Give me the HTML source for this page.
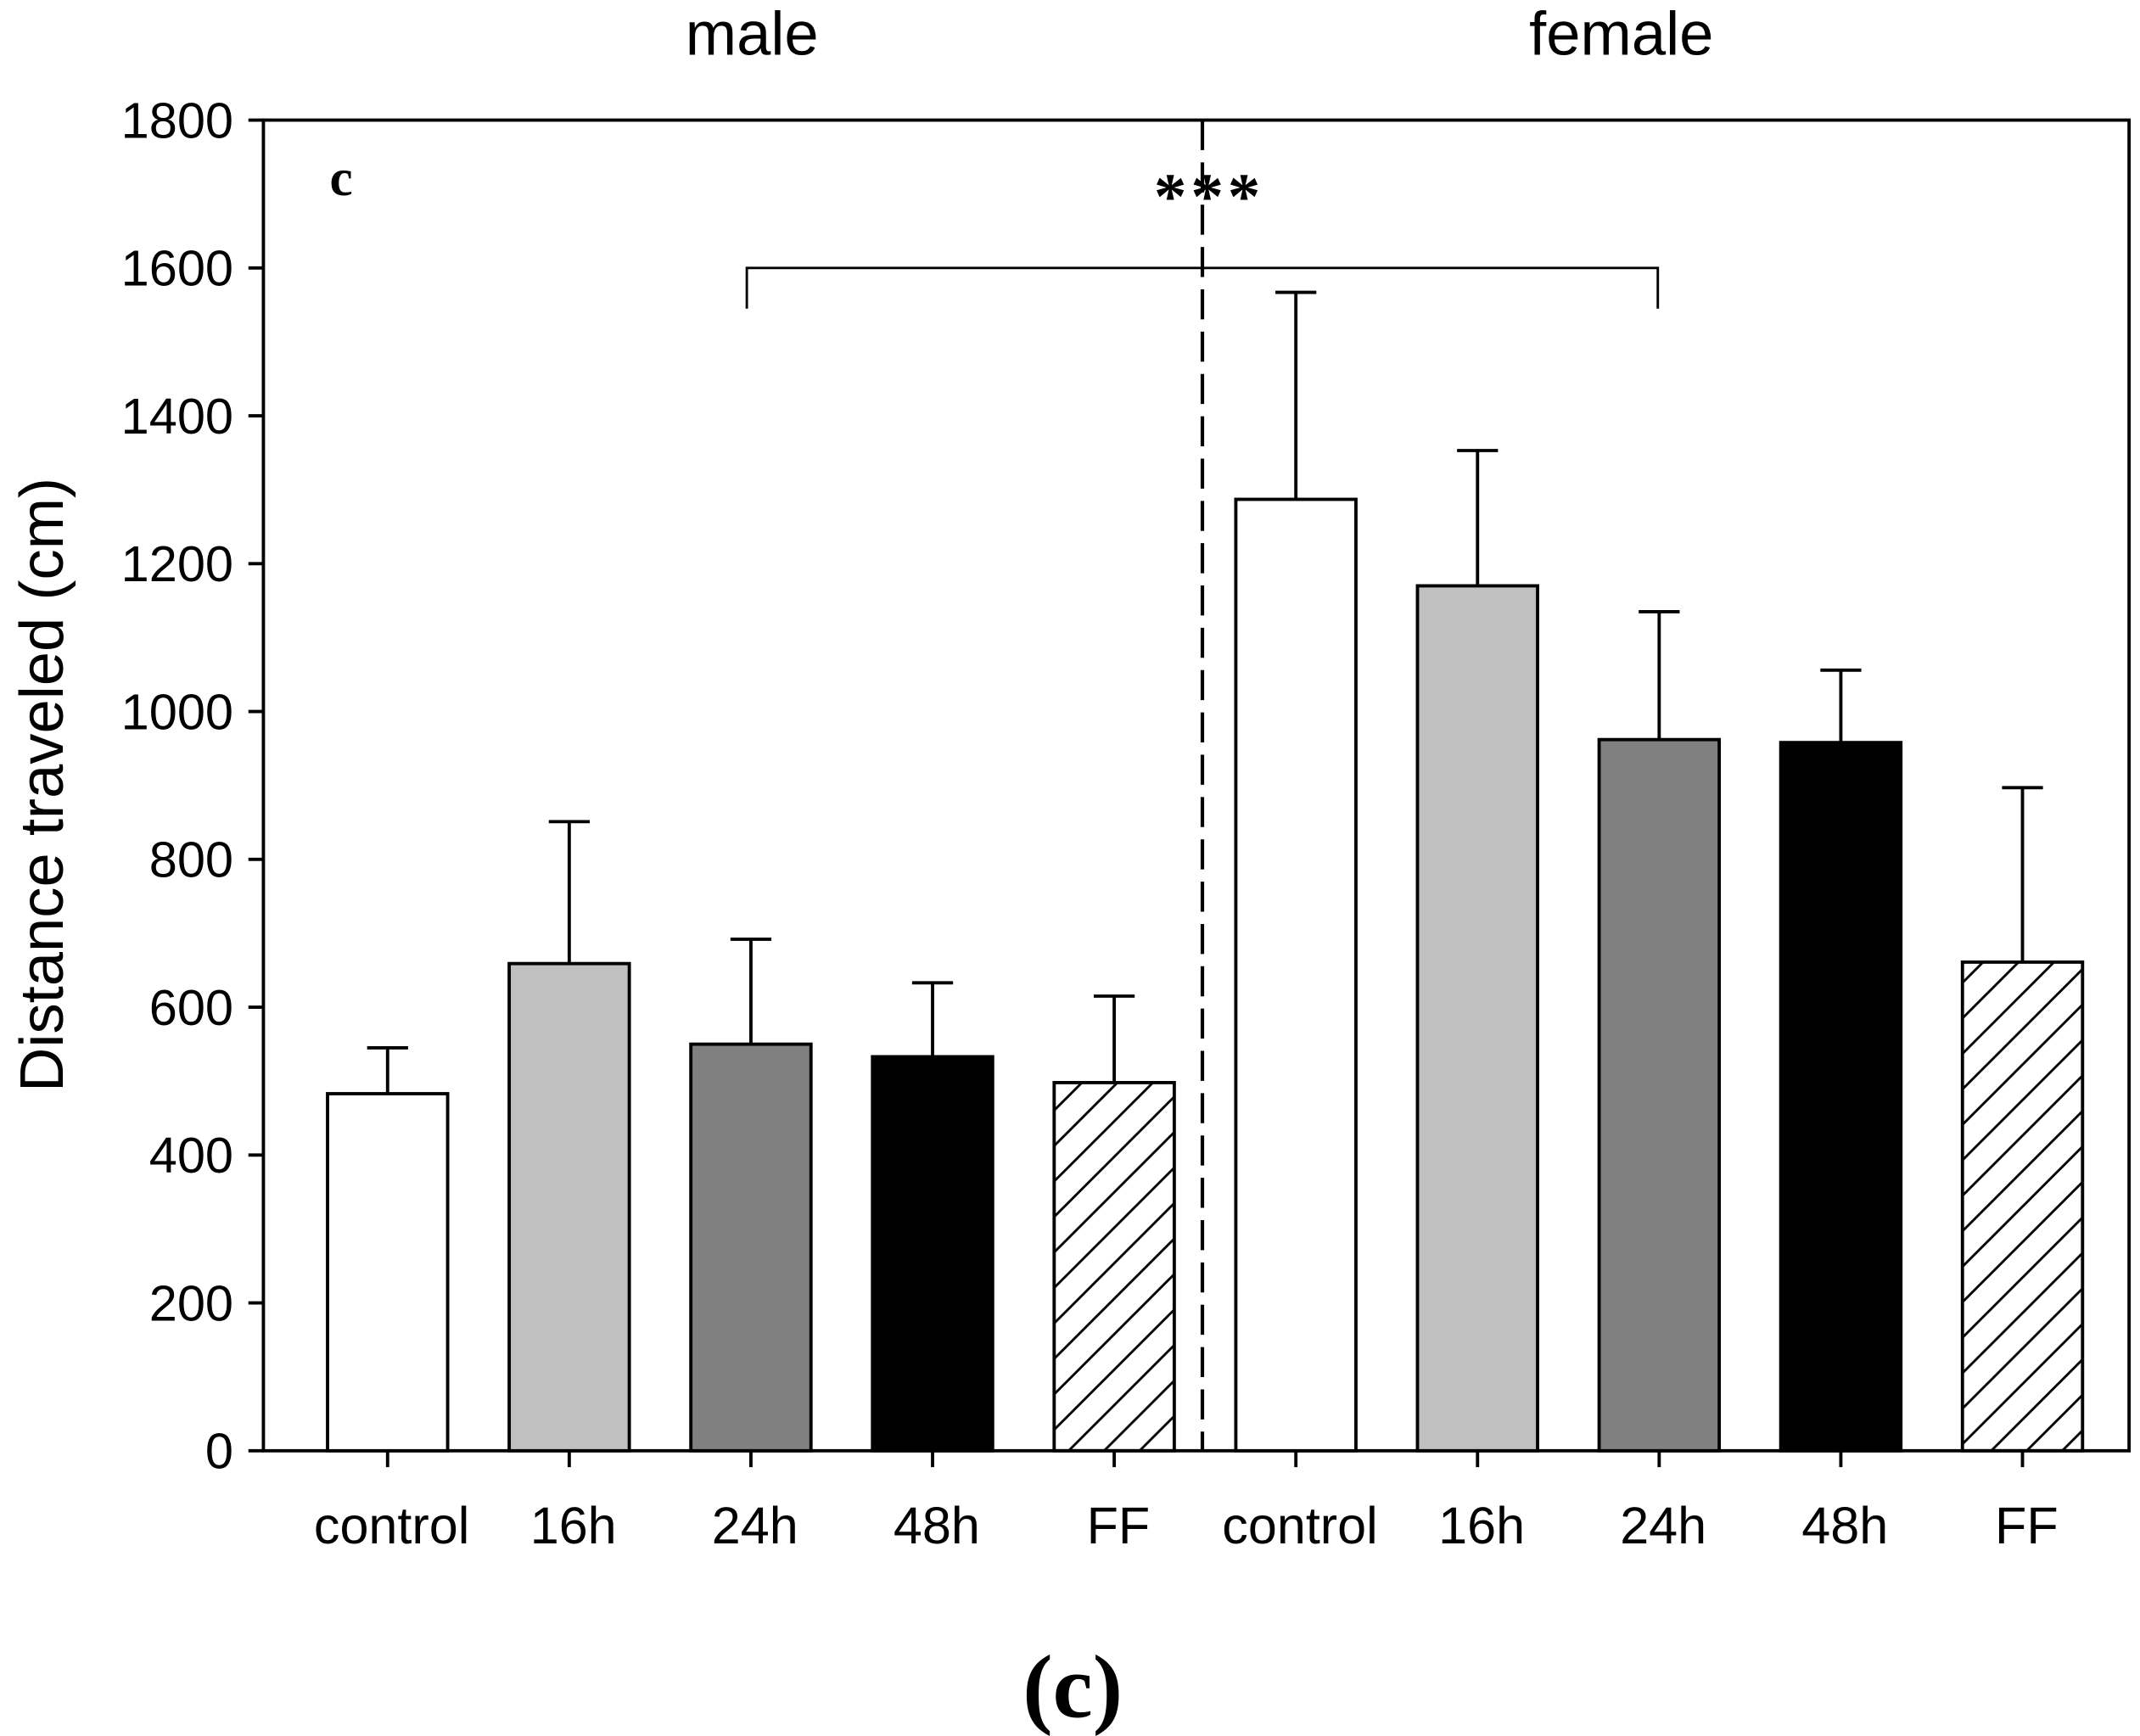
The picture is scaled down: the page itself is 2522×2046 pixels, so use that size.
<!DOCTYPE html>
<html><head><meta charset="utf-8"><style>html,body{margin:0;padding:0;background:#fff}svg{display:block}</style></head>
<body>
<svg width="2522" height="2046" viewBox="0 0 1568 1272" preserveAspectRatio="none" xmlns="http://www.w3.org/2000/svg" font-family="Liberation Sans, Arial, sans-serif">
<defs>
<pattern id="hatch" patternUnits="userSpaceOnUse" width="26" height="26">
<path d="M-2,28 L28,-2 M-15,15 L15,-15 M11,41 L41,11" stroke="#000" stroke-width="1.8"/>
</pattern>
</defs>
<g id="chart"></g>
</svg>
<script>
const categories = ["control","16h","24h","48h","FF","control","16h","24h","48h","FF"];
const groups = ["male","male","male","male","male","female","female","female","female","female"];
const means = [483, 659, 550, 533, 498, 1287, 1170, 962, 958, 661];
const errors = [62, 192, 142, 100, 117, 280, 183, 173, 98, 236];
const fills = ["#fff","#c0c0c0","#808080","#000","url(#hatch)","#fff","#c0c0c0","#808080","#000","url(#hatch)"];
const yTicks = [0,200,400,600,800,1000,1200,1400,1600,1800];

const NS="http://www.w3.org/2000/svg";
const g=document.getElementById('chart');
const L=193,R=1560,T=88,B=1063,yMax=1800;
const y=v=>B-(v/yMax)*(B-T);
const x=i=>284+i*133.1;
const bw=88;
const SW=2.4;
function el(tag,attrs,parent){const e=document.createElementNS(NS,tag);for(const k in attrs)e.setAttribute(k,attrs[k]);(parent||g).appendChild(e);return e;}
function txt(s,attrs){const e=el('text',attrs);e.textContent=s;return e;}

const frame=el('rect',{x:L,y:T,width:R-L,height:B-T,fill:'none',stroke:'#000','stroke-width':SW});



yTicks.forEach(v=>{
  const t=el('line',{x1:L-11,x2:L,y1:y(v),y2:y(v),stroke:'#000','stroke-width':SW});
  
  
  const l=txt(String(v),{x:L-22,y:y(v)+13,'text-anchor':'end','font-size':37});
  
  
});

means.forEach((m,i)=>{
  const cx=x(i);
  const eb=el('line',{x1:cx,x2:cx,y1:y(m),y2:y(m+errors[i]),stroke:'#000','stroke-width':SW});
  
  
  const cap=el('line',{x1:cx-15,x2:cx+15,y1:y(m+errors[i]),y2:y(m+errors[i]),stroke:'#000','stroke-width':SW});
  
  
  const r=el('rect',{x:cx-bw/2,y:y(m),width:bw,height:B-y(m),fill:fills[i],stroke:'#000','stroke-width':SW});
  
  
  const xt=el('line',{x1:cx,x2:cx,y1:B,y2:B+12,stroke:'#000','stroke-width':SW});
  
  
  const xl=txt(categories[i],{x:cx+3,y:B+68,'text-anchor':'middle','font-size':38});
  
  
});

const d=el('line',{x1:881,x2:881,y1:T,y2:B,stroke:'#000','stroke-width':2.6,'stroke-dasharray':'22,9'});



const br=el('path',{d:`M${x(2)-3},${y(1545)} L${x(2)-3},${y(1600)} L${x(7)-1},${y(1600)} L${x(7)-1},${y(1545)}`,fill:'none',stroke:'#000','stroke-width':1.8});


const st=txt('***',{x:886,y:160,'text-anchor':'middle','font-size':48,'font-weight':'bold','font-family':'Liberation Serif, serif','letter-spacing':3});



const c=txt('c',{x:250,y:143,'text-anchor':'middle','font-size':38,'font-weight':'bold','font-family':'Liberation Serif, serif'});



const m=txt('male',{x:551,y:40,'text-anchor':'middle','font-size':45});


const f=txt('female',{x:1188,y:40,'text-anchor':'middle','font-size':45});



const yt=txt('Distance traveled (cm)',{x:0,y:0,'text-anchor':'middle','font-size':45,transform:'translate(46,575) rotate(-90)'});



const cap2=txt('(c)',{x:786,y:1258,'text-anchor':'middle','font-size':66,'font-weight':'bold','font-family':'Liberation Serif, serif'});


</script>
</body></html>
